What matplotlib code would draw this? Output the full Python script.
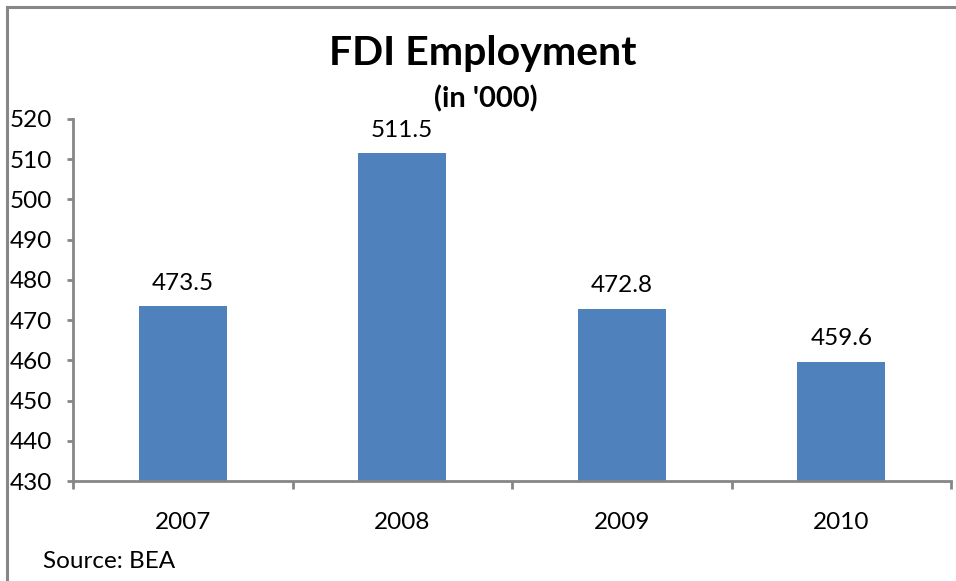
import matplotlib
matplotlib.use('Agg')
import matplotlib.pyplot as plt
from matplotlib.lines import Line2D
import numpy as np

# FDI employment by year, thousands of jobs
years = ['2007', '2008', '2009', '2010']
employment = [473.5, 511.5, 472.8, 459.6]
y_ticks = [430, 440, 450, 460, 470, 480, 490, 500, 510, 520]

plt.rcParams['font.family'] = ['Lato', 'DejaVu Sans']

axis_grey = '#868686'
bar_blue = '#4F81BD'

fig = plt.figure(figsize=(9.56, 5.81), dpi=100)
ax = fig.add_axes([73 / 956, 1 - 481 / 581, 878 / 956, 362 / 581])

x = np.arange(len(years))
ax.bar(x, [v - 430 for v in employment], bottom=430, width=0.4, color=bar_blue)

for xi, v in zip(x, employment):
    ax.annotate(f'{v:.1f}', (xi, v), xytext=(0, 9), textcoords='offset points',
                ha='center', va='bottom', fontsize=17.5)

ax.set_xlim(-0.5, len(years) - 0.5)
ax.set_ylim(430, 520)
ax.set_yticks(y_ticks)
ax.set_xticks(x)
ax.set_xticklabels(years)
ax.set_xticks(np.arange(-0.5, len(years)), minor=True)

ax.tick_params(axis='y', labelsize=17.5, length=4, width=2, color=axis_grey, pad=11)
ax.tick_params(axis='x', which='major', labelsize=17.5, length=0, pad=22)
ax.tick_params(axis='x', which='minor', length=6, width=2, color=axis_grey)

for side in ['top', 'right']:
    ax.spines[side].set_visible(False)
for side in ['left', 'bottom']:
    ax.spines[side].set_color(axis_grey)
    ax.spines[side].set_linewidth(2)

fig.text(483 / 956, 1 - 65 / 581, 'FDI Employment', ha='center', va='baseline',
         fontsize=29.5, fontweight='bold')
fig.text(486 / 956, 1 - 107 / 581, "(in '000)", ha='center', va='baseline',
         fontsize=21, fontweight='bold')
fig.text(43 / 956, 1 - 568 / 581, 'Source: BEA', ha='left', va='baseline', fontsize=17.5)

# chart frame: only the top and left edges fall inside the image
fig.add_artist(Line2D([7 / 956, 1], [1 - 6.5 / 581] * 2, transform=fig.transFigure,
                      color='#878787', linewidth=2.2))
fig.add_artist(Line2D([7 / 956] * 2, [0, 1 - 6.5 / 581], transform=fig.transFigure,
                      color='#878787', linewidth=2.2))

fig.savefig('out.png', dpi=100)
